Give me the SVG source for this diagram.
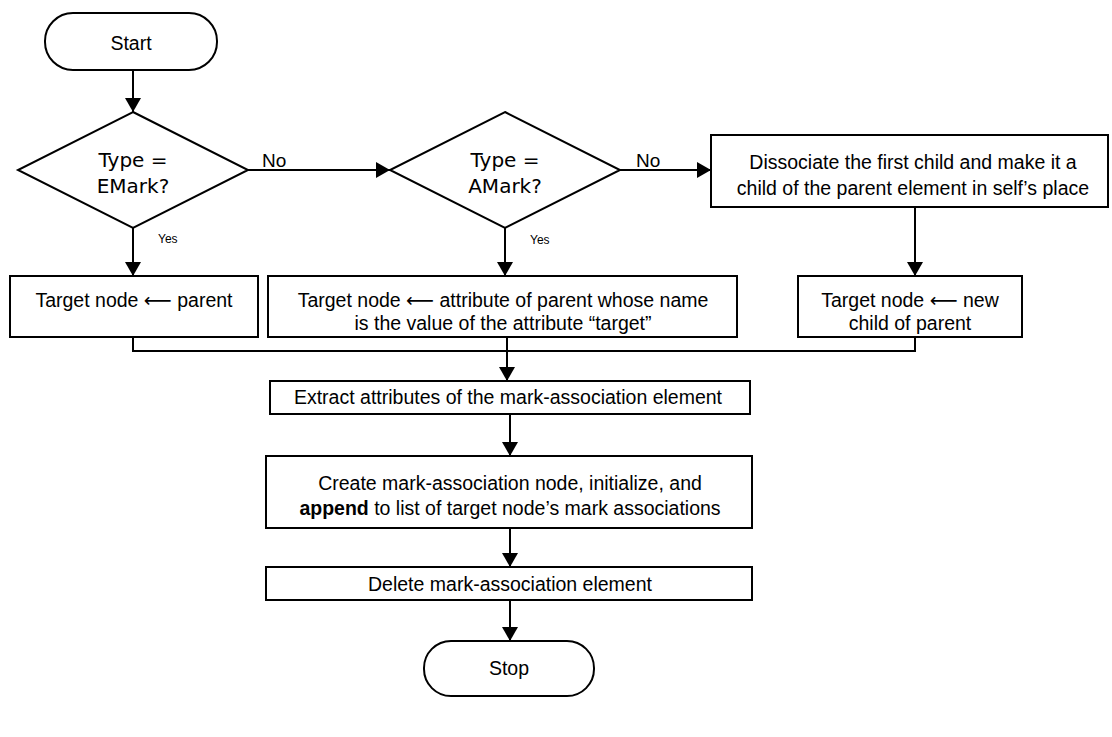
<svg xmlns="http://www.w3.org/2000/svg" width="1112" height="737" viewBox="0 0 1112 737">
  <style>
    .shape { fill: #fff; stroke: #000; stroke-width: 2; }
    .line { fill: none; stroke: #000; stroke-width: 2; }
    .t { font-family: "Liberation Sans", Arial, sans-serif; font-size: 19.5px; fill: #000; text-anchor: middle; }
    .q { font-family: "DejaVu Sans", Verdana, sans-serif; font-size: 20px; fill: #000; text-anchor: middle; }
    .lbl { font-family: "Liberation Sans", Arial, sans-serif; font-size: 19px; fill: #000; }
    .small { font-family: "Liberation Sans", Arial, sans-serif; font-size: 12px; fill: #000; }
    .arr { font-family: "DejaVu Sans", sans-serif; }
  </style>
  <defs>
    <marker id="arrow" viewBox="0 0 14 16" refX="14" refY="8" markerWidth="14" markerHeight="16" markerUnits="userSpaceOnUse" orient="auto">
      <path d="M0,0 L14,8 L0,16 Z" fill="#000"/>
    </marker>
  </defs>
  <rect width="1112" height="737" fill="#fff"/>

  <!-- connectors -->
  <g id="connectors">
    <line class="line" x1="133" y1="70" x2="133" y2="112" marker-end="url(#arrow)"/>
    <line class="line" x1="248" y1="170" x2="390" y2="170" marker-end="url(#arrow)"/>
    <line class="line" x1="620" y1="170" x2="711" y2="170" marker-end="url(#arrow)"/>
    <line class="line" x1="133" y1="228" x2="133" y2="276" marker-end="url(#arrow)"/>
    <line class="line" x1="505" y1="228" x2="505" y2="276" marker-end="url(#arrow)"/>
    <line class="line" x1="915" y1="207" x2="915" y2="276" marker-end="url(#arrow)"/>
    <polyline class="line" points="133,337 133,351 915,351 915,337"/>
    <line class="line" x1="507" y1="337" x2="507" y2="381" marker-end="url(#arrow)"/>
    <line class="line" x1="510" y1="414" x2="510" y2="456" marker-end="url(#arrow)"/>
    <line class="line" x1="510" y1="528" x2="510" y2="567" marker-end="url(#arrow)"/>
    <line class="line" x1="510" y1="600" x2="510" y2="641" marker-end="url(#arrow)"/>
    <text class="lbl" x="262" y="167">No</text>
    <text class="lbl" x="636" y="167">No</text>
    <text class="small" x="158" y="243">Yes</text>
    <text class="small" x="530" y="244">Yes</text>
  </g>

  <g id="start">
    <rect class="shape" x="45" y="13" width="172" height="57" rx="28"/>
    <text class="t" x="131" y="50">Start</text>
  </g>

  <g id="is-emark">
    <polygon class="shape" points="133,112 248,170 133,228 18,170"/>
    <text class="q" x="133" y="167">Type =</text>
    <text class="q" x="133" y="193">EMark?</text>
  </g>

  <g id="is-amark">
    <polygon class="shape" points="505,112 620,170 505,228 390,170"/>
    <text class="q" x="505" y="167">Type =</text>
    <text class="q" x="505" y="193">AMark?</text>
  </g>

  <g id="dissociate">
    <rect class="shape" x="711" y="135" width="397" height="72"/>
    <text class="t" x="913" y="169">Dissociate the first child and make it a</text>
    <text class="t" x="913" y="195">child of the parent element in self’s place</text>
  </g>

  <g id="target-parent">
    <rect class="shape" x="10" y="276" width="248" height="61"/>
    <text class="t" x="134" y="307">Target node  <tspan class="arr">⟵</tspan> parent</text>
  </g>

  <g id="target-attribute">
    <rect class="shape" x="268" y="276" width="469" height="61"/>
    <text class="t" x="503" y="307">Target node <tspan class="arr">⟵</tspan> attribute of parent whose name</text>
    <text class="t" x="503" y="330">is the value of the attribute “target”</text>
  </g>

  <g id="target-child">
    <rect class="shape" x="798" y="276" width="224" height="61"/>
    <text class="t" x="910" y="307">Target node <tspan class="arr">⟵</tspan> new</text>
    <text class="t" x="910" y="330">child of parent</text>
  </g>

  <g id="extract">
    <rect class="shape" x="270" y="381" width="480" height="33"/>
    <text class="t" x="508" y="404">Extract attributes of the mark-association element</text>
  </g>

  <g id="create">
    <rect class="shape" x="266" y="456" width="486" height="72"/>
    <text class="t" x="510" y="490">Create mark-association node, initialize, and</text>
    <text class="t" x="510" y="515"><tspan font-weight="bold">append</tspan> to list of target node’s mark associations</text>
  </g>

  <g id="delete">
    <rect class="shape" x="266" y="567" width="486" height="33"/>
    <text class="t" x="510" y="591">Delete mark-association element</text>
  </g>

  <g id="stop">
    <rect class="shape" x="424" y="641" width="170" height="55" rx="27"/>
    <text class="t" x="509" y="675">Stop</text>
  </g>
</svg>
